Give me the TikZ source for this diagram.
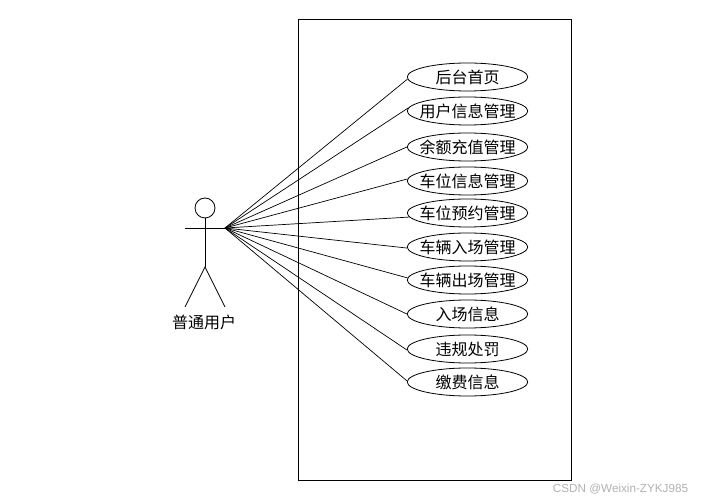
\documentclass[tikz,border=0pt]{standalone}
\usepackage{fontspec}
\setmainfont{Liberation Sans}
\newfontfamily\cjk{Noto Sans CJK SC}
\newcommand{\uctext}[1]{\raisebox{-1pt}{\makebox[0pt][c]{#1}}}
\usetikzlibrary{shapes.geometric}
\tikzset{
  usecase/.style={draw=black,ellipse,minimum width=120.5pt,minimum height=28pt,inner sep=0pt,line width=0.8pt,fill=white,font=\cjk\fontsize{16}{17}\selectfont},
  assoc/.style={draw=black,line width=0.7pt},
  actorline/.style={draw=black,line width=0.8pt}
}
\begin{document}
\begin{tikzpicture}[x=1pt,y=-1pt]
\useasboundingbox (0,0) rectangle (705,502);
\fill[white] (0,0) rectangle (705,502);
\node[draw=black,line width=0.8pt,minimum width=273pt,minimum height=461pt,inner sep=0pt] (sys) at (434.5,249.5) {};
\node[draw=black,circle,minimum size=20pt,inner sep=0pt,line width=0.8pt] (head) at (205,208) {};
\coordinate (hip) at (205,267);
\coordinate (armL) at (185,228);
\coordinate (hub) at (225,228);
\coordinate (legL) at (185,307);
\coordinate (legR) at (225,307);
\draw[actorline] (head.south) -- (hip);
\draw[actorline] (armL) -- (hub);
\draw[actorline] (legL) -- (hip) -- (legR);
\node[font=\cjk\fontsize{16}{17}\selectfont,inner sep=0pt] (actor) at (204,322) {普通用户};
\node[usecase] (u1) at (467.5,77) {\uctext{后台首页}};
\node[usecase] (u2) at (467.5,111) {\uctext{用户信息管理}};
\node[usecase] (u3) at (467.5,147) {\uctext{余额充值管理}};
\node[usecase] (u4) at (467.5,181) {\uctext{车位信息管理}};
\node[usecase] (u5) at (467.5,213) {\uctext{车位预约管理}};
\node[usecase] (u6) at (467.5,247) {\uctext{车辆入场管理}};
\node[usecase] (u7) at (467.5,280) {\uctext{车辆出场管理}};
\node[usecase] (u8) at (467.5,314) {\uctext{入场信息}};
\node[usecase] (u9) at (467.5,349) {\uctext{违规处罚}};
\node[usecase] (u10) at (467.5,382) {\uctext{缴费信息}};
\foreach \n/\a in {1/182,2/177,3/180,4/178,5/184,6/181,7/178,8/180,9/181,10/179}{\draw[assoc] (hub) -- (u\n.\a);}
\node[text=black!30,font=\fontsize{11.7}{12}\selectfont,inner sep=0pt] (wm) at (620.5,489) {CSDN @Weixin-ZYKJ985};
\end{tikzpicture}
\end{document}
